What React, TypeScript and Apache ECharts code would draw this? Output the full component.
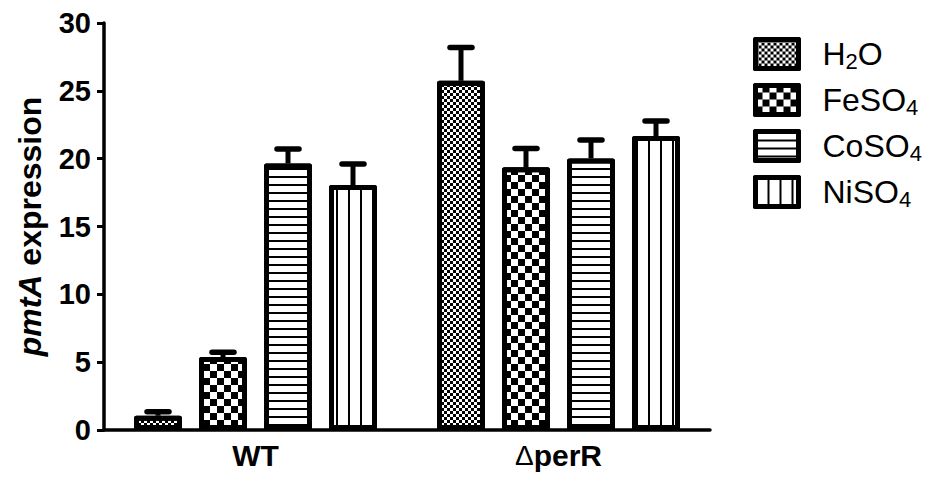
import React, { useEffect, useRef } from "react";
import * as echarts from "echarts";

const categories = ["WT", "ΔperR"];
const treatments = ["H2O", "FeSO4", "CoSO4", "NiSO4"];
const h2oValues = [1.05, 25.74];
const h2oErrors = [0.3, 2.46];
const feso4Values = [5.38, 19.36];
const feso4Errors = [0.35, 1.39];
const coso4Values = [19.65, 20.02];
const coso4Errors = [1.06, 1.35];
const niso4Values = [18.05, 21.67];
const niso4Errors = [1.55, 1.11];
const yMin = 0;
const yMax = 30;
const yInterval = 5;

const FONT = "'Liberation Sans', Arial, sans-serif";
const BAR_W = 48;
const SPACING = 65;

const decals: any[] = [
  { symbol: "rect", symbolSize: 1, symbolKeepAspect: false, dashArrayX: [[3, 3], [0, 3, 3, 0]], dashArrayY: [3, 0], color: "#000", backgroundColor: "rgba(0,0,0,0)", rotation: 0 },
  { symbol: "rect", symbolSize: 1, symbolKeepAspect: false, dashArrayX: [[7, 7], [0, 7, 7, 0]], dashArrayY: [7, 0], color: "#000", backgroundColor: "rgba(0,0,0,0)", rotation: 0 },
  { symbol: "rect", symbolSize: 1, symbolKeepAspect: false, dashArrayX: [[10, 0]], dashArrayY: [2, 6], color: "#000", backgroundColor: "rgba(0,0,0,0)", rotation: 0 },
  { symbol: "rect", symbolSize: 1, symbolKeepAspect: false, dashArrayX: [[2, 10]], dashArrayY: [10, 0], color: "#000", backgroundColor: "rgba(0,0,0,0)", rotation: 0 },
];

function legendLabel(name: string): string {
  let out = "{g|}";
  const parts = name.match(/[A-Za-z]+|\d+/g) || [];
  for (const p of parts) {
    out += /\d/.test(p) ? "{s|" + p + "}" : "{n|" + p + "}";
  }
  return out;
}

export default function App() {
  const ref = useRef<HTMLDivElement>(null);
  useEffect(() => {
    if (!ref.current) return;
    const chart = echarts.init(ref.current, undefined, { renderer: "svg" });
    const valueSets = [h2oValues, feso4Values, coso4Values, niso4Values];
    const errorSets = [h2oErrors, feso4Errors, coso4Errors, niso4Errors];
    const errData: number[][] = [];
    categories.forEach((_, ci) => {
      treatments.forEach((_, ti) => {
        errData.push([ci, ti, valueSets[ti][ci], errorSets[ti][ci]]);
      });
    });
    const barSeries = treatments.map((t, i) => ({
      name: t,
      type: "bar",
      data: valueSets[i],
      barWidth: BAR_W,
      barGap: ((SPACING - BAR_W) / BAR_W) * 100 + "%",
      itemStyle: {
        color: "#fff",
        borderColor: "#000",
        borderWidth: 5,
        borderJoin: "round",
        decal: decals[i],
      },
      z: 2,
    }));
    const option: any = {
      animation: false,
      textStyle: { fontFamily: FONT, color: "#000" },
      grid: { left: 104, right: 216, top: 23, bottom: 47, containLabel: false },
      legend: {
        orient: "vertical",
        left: 748,
        top: 32,
        itemWidth: 43,
        itemHeight: 29,
        itemGap: 11,
        icon: "rect",
        data: treatments,
        selectedMode: false,
        itemStyle: { borderWidth: 5, borderColor: "#000", borderJoin: "round" },
        formatter: (name: string) => legendLabel(name),
        textStyle: {
          color: "#000",
          fontFamily: FONT,
          rich: {
            g: { width: 19 },
            n: { fontSize: 32, fontFamily: FONT, color: "#000", lineHeight: 36 },
            s: { fontSize: 22, fontFamily: FONT, color: "#000", verticalAlign: "bottom", lineHeight: 22 },
          },
        },
      },
      xAxis: {
        type: "category",
        data: categories,
        axisLine: { lineStyle: { color: "#000", width: 3.5 } },
        axisTick: { alignWithLabel: true, length: 10, lineStyle: { color: "#000", width: 2.5 } },
        axisLabel: {
          margin: 10,
          formatter: (v: string) => (v.startsWith("Δ") ? "{d|Δ}{b|" + v.slice(1) + "}" : "{b|" + v + "}"),
          rich: {
            b: { fontSize: 30, fontWeight: "bold", fontFamily: FONT, color: "#000" },
            d: { fontSize: 28, fontWeight: "normal", fontFamily: FONT, color: "#000" },
          },
        },
      },
      yAxis: {
        type: "value",
        min: yMin,
        max: yMax,
        interval: yInterval,
        name: "{i|pmtA}{b| expression}",
        nameLocation: "middle",
        nameRotate: 90,
        nameGap: 58,
        nameTextStyle: {
          rich: {
            i: { fontSize: 32, fontWeight: "bold", fontStyle: "italic", fontFamily: FONT, color: "#000" },
            b: { fontSize: 32, fontWeight: "bold", fontFamily: FONT, color: "#000" },
          },
        },
        splitLine: { show: false },
        axisLine: { show: true, lineStyle: { color: "#000", width: 3.5 } },
        axisTick: { show: true, length: 7, lineStyle: { color: "#000", width: 3 } },
        axisLabel: { fontSize: 29, fontWeight: "bold", color: "#000", fontFamily: FONT, margin: 13 },
      },
      series: [
        ...barSeries,
        {
          type: "custom",
          name: "err",
          data: errData,
          encode: { x: 0, y: 2 },
          z: 3,
          renderItem: (params: any, api: any) => {
            const ci = api.value(0);
            const ti = api.value(1);
            const v = api.value(2);
            const e = api.value(3);
            const base = api.coord([ci, v]);
            const top = api.coord([ci, v + e]);
            const x = base[0] + (ti - 1.5) * SPACING;
            return {
              type: "group",
              children: [
                { type: "line", shape: { x1: x, y1: base[1], x2: x, y2: top[1] }, style: { stroke: "#000", lineWidth: 5 } },
                { type: "line", shape: { x1: x - 11, y1: top[1], x2: x + 11, y2: top[1] }, style: { stroke: "#000", lineWidth: 5.5, lineCap: "round" } },
              ],
            };
          },
        },
      ],
    };
    chart.setOption(option);
    return () => chart.dispose();
  }, []);
  return <div ref={ref} style={{ position: "fixed", left: 0, top: 0, width: 926, height: 477, background: "#fff" }} />;
}
